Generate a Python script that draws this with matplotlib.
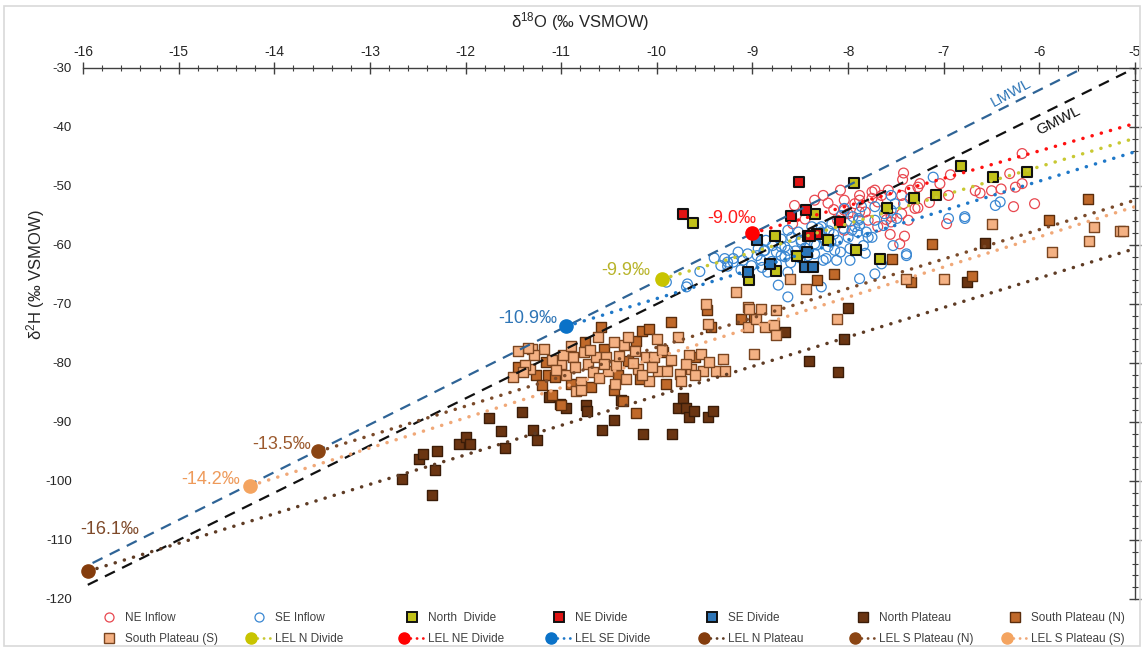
import numpy as np
import matplotlib
matplotlib.use("Agg")
import matplotlib.pyplot as plt
from matplotlib.lines import Line2D
from matplotlib.patches import Rectangle
from matplotlib.ticker import MultipleLocator
from matplotlib.legend_handler import HandlerBase

plt.rcParams['font.family'] = ['Liberation Sans', 'DejaVu Sans']
plt.rcParams['mathtext.fontset'] = 'custom'
plt.rcParams['mathtext.rm'] = 'Liberation Sans'
plt.rcParams['mathtext.it'] = 'Liberation Sans:italic'

# ---------------- data ----------------
ne_inflow_x = [-6.18, -6.31, -6.25, -6.18, -6.27, -6.50, -6.67, -6.62, -6.93, -6.95, -6.97, -7.04,
               -7.25, -7.27, -7.27, -7.30, -7.35, -7.37, -7.41, -7.42, -7.43, -7.42, -7.44, -7.44,
               -7.46, -7.55, -7.55, -7.56, -7.58, -7.60, -7.65, -7.69, -7.69, -7.72, -7.75, -7.75,
               -7.79, -7.82, -7.88, -7.88, -7.88, -7.93, -8.00, -8.04, -8.04, -8.08, -8.11, -8.21,
               -8.26, -8.35, -8.56, -8.58, -8.45, -8.04, -6.40, -6.05, -7.15, -8.15, -7.98]
ne_inflow_y = [-44.5, -47.9, -50.2, -49.6, -53.5, -50.8, -50.8, -51.2, -48.1, -51.6, -56.4, -49.6,
               -49.6, -50.2, -53.7, -53.8, -50.7, -55.8, -58.5, -47.8, -48.9, -53.0, -51.6, -54.7,
               -59.8, -56.1, -55.2, -58.2, -50.7, -55.7, -51.6, -52.7, -56.9, -50.7, -51.0, -52.1,
               -55.8, -54.4, -52.4, -51.6, -54.4, -53.0, -54.7, -52.4, -57.5, -50.7, -55.8, -52.9,
               -51.6, -52.4, -53.3, -56.4, -55.6, -54.1, -50.5, -53.0, -52.8, -54.0, -56.0]

se_inflow_x = [-9.68, -9.69, -9.33, -9.29, -9.26, -9.26, -9.20, -9.20, -9.15, -9.10, -9.01, -8.94,
               -8.91, -8.87, -8.86, -8.84, -8.79, -8.73, -8.70, -8.70, -8.66, -8.66, -8.63, -8.63,
               -8.63, -8.63, -8.59, -8.49, -8.49, -8.38, -8.35, -8.31, -8.28, -8.28, -8.28, -8.26,
               -8.23, -8.21, -8.17, -8.14, -8.12, -8.11, -8.07, -8.04, -8.00, -7.98, -7.98, -7.93,
               -7.89, -7.89, -7.88, -7.88, -7.86, -7.84, -7.82, -7.81, -7.79, -7.75, -7.72, -7.72,
               -7.72, -7.65, -7.63, -7.62, -7.55, -7.55, -7.53, -7.51, -7.49, -7.39, -7.39, -7.35,
               -7.11, -6.95, -6.78, -6.78, -6.46, -6.41, -9.05, -8.95, -8.90, -8.80, -8.75, -8.55,
               -8.50, -8.45, -8.40, -8.35, -8.25, -8.20, -8.15, -8.05, -7.95, -7.90, -8.60, -8.75,
               -9.12, -9.40, -9.55, -9.90, -8.52, -8.42, -8.33, -8.18, -8.08, -7.96, -8.70, -8.88]
se_inflow_y = [-66.6, -67.1, -63.5, -62.3, -63.6, -62.9, -62.9, -62.3, -61.2, -62.6, -63.5, -60.6,
               -62.6, -60.9, -59.2, -64.6, -60.1, -66.8, -61.8, -60.3, -60.3, -62.0, -60.9, -64.6,
               -68.8, -57.5, -58.7, -59.2, -59.5, -56.9, -61.5, -57.2, -57.8, -56.9, -67.1, -62.6,
               -62.3, -60.3, -56.4, -60.9, -62.6, -59.2, -55.0, -53.8, -58.7, -60.6, -62.6, -56.9,
               -55.5, -55.8, -65.7, -56.7, -53.5, -60.1, -61.4, -57.8, -58.7, -58.7, -53.5, -55.8,
               -64.9, -63.2, -56.7, -54.7, -51.6, -54.1, -60.1, -53.0, -55.5, -61.8, -61.5, -52.1,
               -48.5, -55.5, -55.5, -55.2, -53.3, -52.7, -61.5, -61.8, -63.8, -62.8, -63.2, -61.0,
               -62.2, -60.5, -58.5, -59.8, -58.8, -57.6, -58.2, -57.2, -55.2, -57.8, -63.0, -61.2,
               -64.2, -62.2, -64.5, -66.3, -57.8, -61.8, -60.0, -59.5, -61.2, -57.5, -59.0, -61.0]

north_divide_x = [-9.62, -8.76, -8.35, -8.21, -8.53, -8.75, -9.04, -7.92, -7.67, -7.94, -7.59, -7.31,
                  -7.08, -6.82, -6.49, -6.13]
north_divide_y = [-56.3, -58.5, -54.7, -59.1, -61.8, -64.4, -65.9, -60.8, -62.3, -49.5, -53.8, -52.0,
                  -51.6, -46.6, -48.5, -47.6]

ne_divide_x = [-9.73, -8.51, -8.60, -8.44, -8.08, -8.42, -8.33, -8.40]
ne_divide_y = [-54.7, -49.3, -55.1, -54.1, -56.1, -58.4, -58.2, -58.5]

se_divide_x = [-8.95, -8.82, -9.05, -8.43, -8.45, -8.37]
se_divide_y = [-59.1, -63.3, -64.6, -61.2, -63.7, -63.7]

n_plateau_x = [-12.66, -12.49, -12.45, -12.30, -12.32, -12.35, -12.07, -11.75, -11.41, -11.63, -11.59,
               -11.29, -11.25, -11.13, -11.01, -10.95, -10.74, -10.73, -10.57, -10.45, -10.37, -10.14,
               -9.84, -9.78, -9.73, -9.69, -9.66, -9.61, -9.46, -9.41, -8.41, -8.11, -8.00, -8.04,
               -8.66, -6.57, -6.76, -12.00, -11.95]
n_plateau_y = [-99.6, -96.2, -95.4, -94.9, -98.1, -102.3, -93.7, -89.3, -88.3, -91.6, -94.4,
               -91.3, -93.0, -85.7, -86.9, -87.6, -87.2, -88.2, -91.3, -89.6, -86.2, -92.1,
               -92.1, -87.6, -86.0, -87.6, -89.1, -88.1, -89.1, -88.2, -79.6, -81.6, -70.6, -76.0,
               -74.8, -59.6, -66.3, -92.5, -93.8]

s_plateau_n_x = [-11.26, -11.16, -11.14, -11.06, -11.00, -10.69, -10.58, -10.55, -10.41, -10.22, -10.18,
                 -10.15, -10.08, -9.94, -9.85, -9.48, -9.43, -9.12, -8.98, -11.00, -10.22, -8.32,
                 -8.15, -7.54, -7.34, -7.12, -6.70, -5.90, -5.49, -11.45, -11.20, -10.90, -10.45,
                 -10.30, -9.90, -9.60, -10.75, -11.10, -10.35]
s_plateau_n_y = [-82.1, -79.8, -82.1, -82.4, -80.4, -84.1, -73.9, -77.6, -82.1, -76.2, -82.7,
                 -74.5, -74.2, -78.2, -73.1, -71.1, -73.9, -72.5, -72.3, -87.2, -88.4, -65.9,
                 -64.9, -62.3, -66.3, -59.9, -65.3, -55.7, -52.2, -80.6, -83.8, -83.5, -84.5,
                 -79.6, -83.6, -79.0, -76.4, -85.5, -86.5]

s_plateau_s_x = [-11.30, -11.18, -11.28, -11.33, -11.38, -11.40, -11.35, -10.95, -10.88, -10.86, -10.85,
                 -10.79, -10.76, -10.72, -10.67, -10.64, -10.62, -10.53, -10.51, -10.44, -10.43, -10.34,
                 -10.32, -10.30, -10.23, -10.20, -10.11, -10.08, -10.03, -9.99, -9.89, -9.78, -9.76,
                 -9.75, -9.66, -9.64, -9.54, -9.52, -9.49, -9.47, -9.38, -9.31, -9.29, -9.17, -9.05,
                 -9.05, -8.98, -10.79, -11.00, -8.96, -8.91, -8.87, -8.77, -8.75, -8.61, -8.44, -8.12,
                 -9.04, -8.75, -7.39, -7.00, -6.50, -5.87, -5.48, -5.43, -5.16, -5.13, -11.10, -11.05,
                 -10.98, -10.70, -10.60, -10.55, -10.40, -10.25, -10.15, -10.05, -9.95, -9.85, -9.70,
                 -9.60, -9.45, -10.90, -10.45, -10.00, -11.45, -11.50]
s_plateau_s_y = [-77.6, -77.6, -78.7, -81.0, -80.3, -81.5, -77.5, -82.1, -79.0, -80.7, -84.7,
                 -83.3, -78.2, -80.1, -81.6, -79.0, -75.6, -79.0, -81.3, -83.5, -80.4, -77.0,
                 -82.7, -75.6, -77.9, -81.0, -79.0, -83.0, -79.0, -81.3, -81.3, -75.6, -81.8,
                 -83.0, -78.7, -81.0, -78.4, -81.3, -70.0, -73.4, -81.3, -79.3, -81.3, -68.0, -70.5,
                 -73.9, -78.4, -84.6, -80.1, -72.5, -70.8, -73.9, -73.6, -75.3, -65.7, -67.4, -72.5,
                 -70.8, -71.1, -65.7, -65.8, -56.5, -61.2, -59.3, -56.9, -57.6, -57.6, -79.5, -81.2,
                 -78.6, -77.8, -82.5, -80.2, -78.8, -80.0, -82.0, -80.6, -77.8, -79.5, -80.2,
                 -82.0, -79.8, -77.2, -76.5, -76.0, -78.0, -82.3]

# meteoric water lines (endpoints)
lmwl_x = [-15.9, -5.54]
lmwl_y = [-113.9, -30.0]
gmwl_x = [-15.95, -5.0]
gmwl_y = [-117.6, -30.0]

# local evaporation lines: start (intersection) and end at x = -5
lel_names = ['LEL N Divide', 'LEL NE Divide', 'LEL SE Divide', 'LEL N Plateau',
             'LEL S Plateau (N)', 'LEL S Plateau (S)']
lel_x0 = [-9.95, -9.0, -10.95, -15.95, -13.54, -14.25]
lel_y0 = [-65.8, -58.0, -73.8, -115.3, -95.0, -100.8]
lel_x1 = [-5.0, -5.0, -5.0, -5.0, -5.0, -5.0]
lel_y1 = [-41.9, -39.4, -44.2, -60.6, -52.4, -53.5]
lel_labels = ['-9.9‰', '-9.0‰', '-10.9‰', '-16.1‰', '-13.5‰', '-14.2‰']

x_ticks = [-16, -15, -14, -13, -12, -11, -10, -9, -8, -7, -6, -5]
y_ticks = [-30, -40, -50, -60, -70, -80, -90, -100, -110, -120]

# ---------------- styles ----------------
W, H = 1143, 648
fig = plt.figure(figsize=(W / 100, H / 100), dpi=100)
ax_l, ax_r, ax_t, ax_b = 83, 1135, 68, 599
ax = fig.add_axes([ax_l / W, 1 - ax_b / H, (ax_r - ax_l) / W, (ax_b - ax_t) / H])
ax.set_xlim(-16, -5)
ax.set_ylim(-120, -30)

# chart-area border
fig.add_artist(Rectangle((4 / W, 2 / H), (W - 7) / W, (H - 8) / H, transform=fig.transFigure,
                         fill=False, edgecolor='#d9d9d9', lw=1.2))

sq = 52
ax.scatter(ne_inflow_x, ne_inflow_y, s=50, marker='o', facecolors='none',
           edgecolors='#e8474f', linewidths=0.9, zorder=3)
ax.scatter(se_inflow_x, se_inflow_y, s=50, marker='o', facecolors='none',
           edgecolors='#3a87d2', linewidths=0.9, zorder=3)
ax.scatter(north_divide_x, north_divide_y, s=sq, marker='s', facecolors='#c2c21a',
           edgecolors='#111111', linewidths=1.5, zorder=4)
ax.scatter(ne_divide_x, ne_divide_y, s=sq, marker='s', facecolors='#e01414',
           edgecolors='#111111', linewidths=1.5, zorder=4)
ax.scatter(se_divide_x, se_divide_y, s=sq, marker='s', facecolors='#2e75b6',
           edgecolors='#111111', linewidths=1.5, zorder=4)
ax.scatter(n_plateau_x, n_plateau_y, s=sq, marker='s', facecolors='#6b3512',
           edgecolors='#3a1c08', linewidths=1.0, zorder=3)
ax.scatter(s_plateau_n_x, s_plateau_n_y, s=sq, marker='s', facecolors='#c0692a',
           edgecolors='#5a2d0c', linewidths=1.0, zorder=3)
ax.scatter(s_plateau_s_x, s_plateau_s_y, s=sq, marker='s', facecolors='#f4b183',
           edgecolors='#7a4520', linewidths=1.0, zorder=3)

# MWLs
ax.plot(lmwl_x, lmwl_y, color='#2f6496', lw=1.6, ls=(0, (5, 3.6)), zorder=5)
ax.plot(gmwl_x, gmwl_y, color='#111111', lw=1.6, ls=(0, (5, 3.6)), zorder=5)
ax.annotate('LMWL', (-5.54, -30.0), xytext=(-72, -25), textcoords='offset pixels',
            color='#2e75b6', fontsize=11, rotation=29, ha='center', va='center', zorder=6)
ax.annotate('GMWL', (-5.0, -30.0), xytext=(-76, -53), textcoords='offset pixels',
            color='#111111', fontsize=11, rotation=27, ha='center', va='center', zorder=6)

lel_line_colors = ['#c8c832', '#ff1010', '#1f78c8', '#5e3b24', '#7a4a2a', '#f0a878']
lel_dot_colors = ['#c8c400', '#ff0000', '#0a72c8', '#843c0c', '#8b4513', '#f4a460']
lel_text_colors = ['#b8b42a', '#ff1a1a', '#2e75b6', '#7f4a2a', '#9c5a2e', '#ee9a5a']
lel_offsets = [(-11, 9, 'right'), (4, 15, 'right'), (-9, 8, 'right'), (-8, 42, 'left'),
               (-7, 7, 'right'), (-10, 6, 'right')]
dotted = (0, (0.05, 2.7))
for i in range(len(lel_x0)):
    ax.plot([lel_x0[i], lel_x1[i]], [lel_y0[i], lel_y1[i]], color=lel_line_colors[i],
            lw=2.5, ls=dotted, dash_capstyle='round', solid_capstyle='round', zorder=5)
    ax.plot([lel_x0[i]], [lel_y0[i]], 'o', color=lel_dot_colors[i], ms=9.5, zorder=6,
            clip_on=False)
    dx, dy, ha = lel_offsets[i]
    ax.annotate(lel_labels[i], (lel_x0[i], lel_y0[i]), xytext=(dx, dy),
                textcoords='offset pixels', ha=ha, va='center', fontsize=13,
                color=lel_text_colors[i], zorder=6)

# axes styling
for s in ['left', 'bottom']:
    ax.spines[s].set_visible(False)
for s in ['top', 'right']:
    ax.spines[s].set_color('#404040')
    ax.spines[s].set_linewidth(1.0)
ax.xaxis.tick_top()
ax.set_xticks(x_ticks)
ax.set_xticklabels([str(v) for v in x_ticks])
ax.xaxis.set_minor_locator(MultipleLocator(0.2))
ax.tick_params(axis='x', which='major', direction='inout', length=9, width=1.0,
               color='#404040', labelsize=10, pad=2, top=True, bottom=False,
               labeltop=True, labelbottom=False)
ax.tick_params(axis='x', which='minor', direction='inout', length=5, width=0.8,
               color='#404040', top=True, bottom=False)
ax.set_yticks(y_ticks)
ax.set_yticklabels([str(v) for v in y_ticks])
ax.yaxis.set_minor_locator(MultipleLocator(2))
ax.tick_params(axis='y', which='major', direction='inout', length=9, width=1.0,
               color='#404040', labelsize=9.5, pad=3.5, left=False, right=True,
               labelleft=True, labelright=False)
ax.tick_params(axis='y', which='minor', direction='inout', length=5, width=0.8,
               color='#404040', left=False, right=True)
for lab in ax.get_xticklabels() + ax.get_yticklabels():
    lab.set_color('#262626')

fig.text(580 / W, 1 - 22 / H, 'δ$^{18}$O (‰ VSMOW)', ha='center', va='center',
         fontsize=12, color='#262626')
fig.text(36 / W, 1 - 275 / H, 'δ$^{2}$H (‰ VSMOW)', ha='center', va='center',
         fontsize=12, color='#262626', rotation=90)


# legend: one small legend per column so that columns sit where they do in the reference
class PosHandler(HandlerBase):
    """Draws an optional dotted line and a marker at a given offset (points) in the handle box."""

    def __init__(self, marker_pt, marker_kw, line_kw=None):
        super().__init__()
        self.marker_pt = marker_pt
        self.marker_kw = marker_kw
        self.line_kw = line_kw

    def create_artists(self, legend, orig_handle, xdescent, ydescent, width, height,
                       fontsize, trans):
        y = (height - ydescent) / 2
        x0 = -xdescent
        arts = []
        if self.line_kw is not None:
            ln = Line2D([x0 + self.marker_pt, x0 + width], [y, y], **self.line_kw)
            ln.set_transform(trans)
            arts.append(ln)
        mk = Line2D([x0 + self.marker_pt], [y], ls='none', **self.marker_kw)
        mk.set_transform(trans)
        arts.append(mk)
        return arts


def sq_kw(fc, ec, lw):
    return dict(marker='s', ms=6.5, markerfacecolor=fc, markeredgecolor=ec, markeredgewidth=lw)


def circ_kw(ec):
    return dict(marker='o', ms=6.5, markerfacecolor='none', markeredgecolor=ec,
                markeredgewidth=0.9)


def lel_kw(i):
    return (dict(marker='o', ms=8, markerfacecolor=lel_dot_colors[i],
                 markeredgecolor=lel_dot_colors[i]),
            dict(color=lel_line_colors[i], lw=2.0, ls=(0, (0.05, 2.2)),
                 dash_capstyle='round'))


row1 = [(circ_kw('#e8474f'), None, 'NE Inflow'), (circ_kw('#3a87d2'), None, 'SE Inflow'),
        (sq_kw('#c2c21a', '#111111', 1.4), None, 'North  Divide'),
        (sq_kw('#e01414', '#111111', 1.4), None, 'NE Divide'),
        (sq_kw('#2e75b6', '#111111', 1.4), None, 'SE Divide'),
        (sq_kw('#6b3512', '#3a1c08', 1.0), None, 'North Plateau'),
        (sq_kw('#c0692a', '#5a2d0c', 1.0), None, 'South Plateau (N)')]
row2 = [(sq_kw('#f4b183', '#7a4520', 1.0), None, 'South Plateau (S)')] + \
       [lel_kw(i) + (lel_names[i],) for i in range(6)]

# layout of legend columns in pixels: text start; markers sit a fixed distance before it
col_text = [125, 275, 428, 575, 728, 879, 1031]
fs = 8.5
px2pt = 72 / 100
for c in range(7):
    m1 = col_text[c] - 16
    m2 = col_text[c] - (16 if c == 0 else 24)
    left = min(m1, m2) - 5
    hl_px = col_text[c] - 4 - left
    hs, labels, hm = [], [], {}
    for k, (mkw, lkw, lab) in enumerate([row1[c], row2[c]]):
        h = Line2D([], [])
        m_px = (m1 if k == 0 else m2) - left
        hm[h] = PosHandler(m_px * px2pt, mkw, lkw)
        hs.append(h)
        labels.append(lab)
    leg = fig.legend(hs, labels, loc='upper left', bbox_to_anchor=(left / W, 1 - 612 / H),
                     frameon=False, fontsize=fs, borderpad=0, borderaxespad=0,
                     handlelength=hl_px * px2pt / fs, handletextpad=4 * px2pt / fs,
                     labelspacing=0.75, handler_map=hm)
    for t in leg.get_texts():
        t.set_color('#404040')

fig.savefig('out.png', dpi=100)
